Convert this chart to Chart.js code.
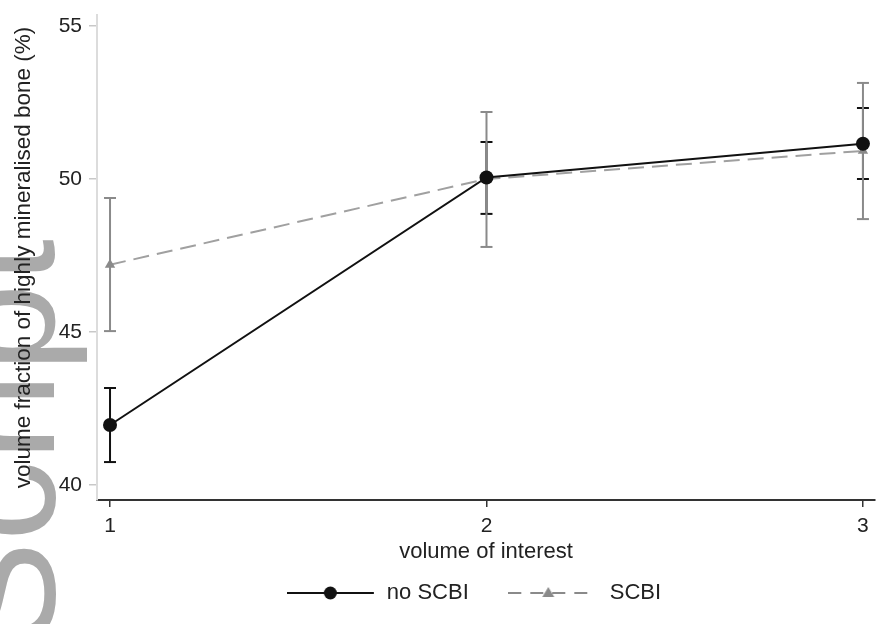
<!DOCTYPE html>
<html lang="en">
<head>
<meta charset="UTF-8">
<title>Volume fraction of highly mineralised bone</title>
<script src="https://cdn.jsdelivr.net/npm/chart.js"></script>
<style>
  html, body { margin: 0; padding: 0; background: #fff; }
  #wrap { width: 883px; height: 624px; }
</style>
</head>
<body>
<div id="wrap"><canvas id="voiChart"></canvas></div>
<script>
// values
const volumes = [1, 2, 3];
const yTicks = [40, 45, 50, 55];
const noScbiMean = [41.96, 50.05, 51.15];
const noScbiLow = [40.75, 48.86, 50.0];
const noScbiHigh = [43.17, 51.21, 52.32];
const scbiMean = [47.2, 50.0, 50.92];
const scbiLow = [45.03, 47.78, 48.69];
const scbiHigh = [49.38, 52.19, 53.14];

const BLACK = '#111111';
const GREY = '#8a8a8a';

Chart.defaults.font.family = '"Liberation Sans", Arial, sans-serif';
Chart.defaults.color = '#222';

function points(ys) {
  return volumes.map((x, i) => ({ x: x, y: ys[i] }));
}

// vertical whiskers, one segment per volume, broken by null points
function whiskers(lo, hi) {
  const pts = [];
  volumes.forEach((x, i) => {
    pts.push({ x: x, y: lo[i] }, { x: x, y: hi[i] }, { x: x, y: null });
  });
  return pts;
}

// legend icons: a bit of line with the marker on it
function legendIcon(visibleW, extraRight, dashed, color, marker) {
  const c = document.createElement('canvas');
  c.width = visibleW + extraRight;
  c.height = 18;
  const g = c.getContext('2d');
  g.strokeStyle = color;
  g.lineWidth = 2;
  if (dashed) g.setLineDash([13, 9]);
  g.beginPath();
  g.moveTo(0, 9);
  g.lineTo(visibleW, 9);
  g.stroke();
  g.setLineDash([]);
  g.fillStyle = color;
  const cx = visibleW / 2;
  g.beginPath();
  if (marker === 'circle') {
    g.arc(cx, 9, 6.5, 0, Math.PI * 2);
  } else {
    g.moveTo(cx, 3);
    g.lineTo(cx + 6, 13);
    g.lineTo(cx - 6, 13);
    g.closePath();
  }
  g.fill();
  return c;
}

const iconNo = legendIcon(87, 26, false, BLACK, 'circle');
const iconScbi = legendIcon(80, 36, true, GREY, 'triangle');

const watermark = {
  id: 'watermark',
  beforeDraw(chart) {
    const ctx = chart.ctx;
    ctx.save();
    ctx.fillStyle = '#ffffff';
    ctx.fillRect(0, 0, chart.width, chart.height);
    ctx.fillStyle = '#aaaaaa';
    ctx.font = '160px "Liberation Sans", Arial, sans-serif';
    ctx.textBaseline = 'alphabetic';
    ctx.translate(54, 648);
    ctx.rotate(-Math.PI / 2);
    ctx.fillText('Script', 0, 0);
    ctx.restore();
  }
};

new Chart(document.getElementById('voiChart'), {
  type: 'line',
  data: {
    datasets: [
      {
        label: 'no SCBI',
        data: points(noScbiMean),
        borderColor: BLACK,
        backgroundColor: BLACK,
        borderWidth: 2,
        pointStyle: 'circle',
        pointRadius: 7,
        pointBorderWidth: 0,
        order: 1
      },
      {
        label: 'SCBI',
        data: points(scbiMean),
        borderColor: '#a0a0a0',
        backgroundColor: GREY,
        borderWidth: 2,
        borderDash: [16, 8],
        pointStyle: 'triangle',
        pointRadius: 6,
        pointBorderWidth: 0,
        pointBackgroundColor: GREY,
        order: 2
      },
      {
        label: 'SCBI ci',
        data: whiskers(scbiLow, scbiHigh),
        borderColor: GREY,
        borderWidth: 2,
        pointStyle: 'line',
        pointRadius: 6,
        pointBorderWidth: 2,
        pointBorderColor: GREY,
        spanGaps: false,
        order: 3
      },
      {
        label: 'no SCBI ci',
        data: whiskers(noScbiLow, noScbiHigh),
        borderColor: BLACK,
        borderWidth: 2,
        pointStyle: 'line',
        pointRadius: 6,
        pointBorderWidth: 2,
        pointBorderColor: BLACK,
        spanGaps: false,
        order: 4
      }
    ]
  },
  options: {
    responsive: true,
    maintainAspectRatio: false,
    animation: false,
    layout: { padding: { top: 15, right: 5, left: 0, bottom: 10 } },
    scales: {
      x: {
        type: 'linear',
        min: 0.9654,
        max: 3.032,
        afterBuildTicks: s => { s.ticks = volumes.map(v => ({ value: v })); },
        afterFit: s => { s.height = 72; },
        grid: { drawOnChartArea: false, drawTicks: true, tickLength: 7, color: '#333', lineWidth: 1.5 },
        border: { display: true, color: '#333', width: 2 },
        ticks: { font: { size: 21 }, color: '#222', padding: 7 },
        title: { display: true, text: 'volume of interest', font: { size: 22 }, color: '#222', padding: { top: 0, bottom: 7 } }
      },
      y: {
        type: 'linear',
        min: 39.51,
        max: 55.36,
        afterBuildTicks: s => { s.ticks = yTicks.map(v => ({ value: v })); },
        afterFit: s => { s.width = 97; s.paddingTop = 0; s.paddingBottom = 0; },
        grid: { drawOnChartArea: false, drawTicks: true, tickLength: 8, color: '#c8c8c8', lineWidth: 1.5 },
        border: { display: true, color: '#dcdcdc', width: 2 },
        ticks: { font: { size: 21 }, color: '#222', padding: 7 },
        title: { display: true, text: 'volume fraction of highly mineralised bone (%)', font: { size: 22.5 }, color: '#222', padding: { top: 10, bottom: 0 } }
      }
    },
    plugins: {
      tooltip: { enabled: false },
      legend: {
        position: 'bottom',
        fullSize: false,
        labels: {
          usePointStyle: true,
          pointStyleWidth: 65,
          boxHeight: 22,
          padding: 10,
          font: { size: 22 },
          color: '#222',
          generateLabels: () => [
            { text: 'no SCBI         ', pointStyle: iconNo, fillStyle: BLACK, strokeStyle: BLACK, lineWidth: 0, hidden: false, datasetIndex: 0, fontColor: '#222' },
            { text: 'SCBI', pointStyle: iconScbi, fillStyle: GREY, strokeStyle: GREY, lineWidth: 0, hidden: false, datasetIndex: 1, fontColor: '#222' }
          ]
        }
      }
    }
  },
  plugins: [watermark]
});
</script>
</body>
</html>
